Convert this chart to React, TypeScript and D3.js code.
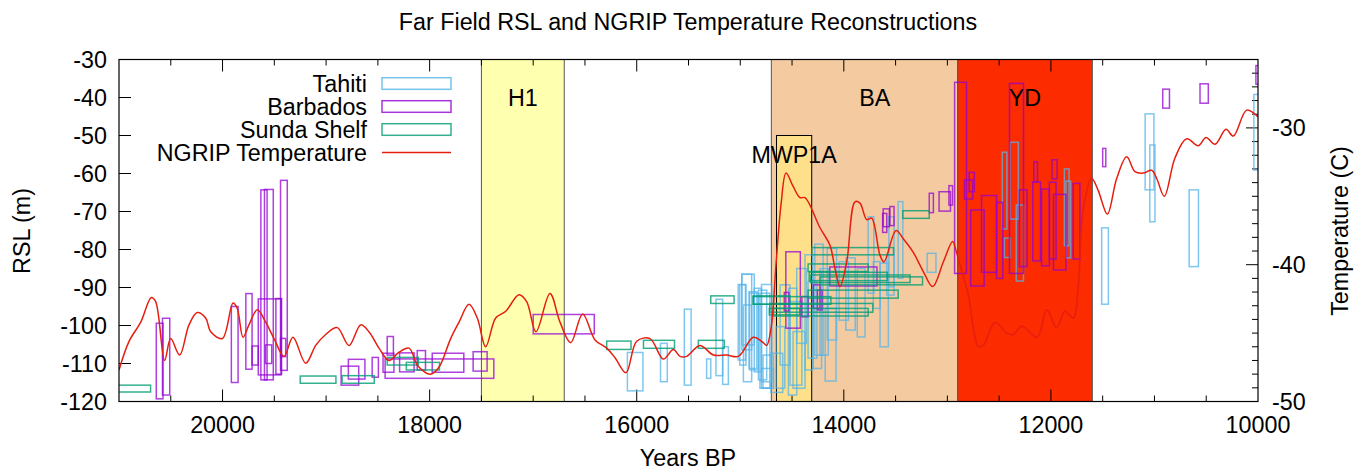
import React from 'react';
import * as d3 from 'd3';

// chart box in the page
const W = 1354;
const H = 470;
const L = 119, R = 1258, T = 59.5, B = 401.5;
const FONT = 'Liberation Sans, Arial, Helvetica, sans-serif';
const FS = 23.3;

// shaded climate periods (years BP)
const periodNames = ['H1', 'BA', 'YD'];
const periodOld = [17500, 14700, 12900];
const periodYoung = [16700, 12900, 11600];
const periodLabelYear = [17100, 13700, 12250];
const periodLabelRsl = [-40, -40, -40];

// meltwater pulse 1A box
const mwpOld = 14650;
const mwpYoung = 14310;
const mwpTop = -50;
const mwpLabelYear = 14480;
const mwpLabelRsl = -55;

// boxes: [older year, younger year, upper RSL, lower RSL]
const tahiti = [
  [16090, 15940, -107.1, -117.2], [15770, 15705, -104.7, -114.8], [15540, 15475, -95.7, -115.7],
  [15325, 15285, -108.8, -113.9], [15235, 15170, -93.1, -113.2], [15170, 15115, -105.6, -115.5],
  [15020, 14950, -89.2, -109.1], [14985, 14890, -86.5, -106.4], [14970, 14890, -94.6, -114.8],
  [14915, 14840, -91.1, -111.3], [14865, 14795, -90.2, -112.2], [14795, 14695, -89.2, -114.8],
  [14795, 14680, -111.3, -116.5], [15005, 14945, -89.3, -110.4], [14985, 14865, -86.5, -105.1],
  [14910, 14825, -91.5, -111.7], [14825, 14745, -90.7, -114.3], [14810, 14715, -91.5, -116.5],
  [14780, 14680, -107.8, -116.5], [14705, 14590, -107.3, -117.6], [14655, 14570, -100.3, -116.5],
  [14615, 14520, -89.3, -110.4], [14535, 14455, -90.2, -118.3], [14520, 14405, -93.7, -115.7],
  [14490, 14375, -101.6, -116.5], [14455, 14360, -85.0, -104.7], [14375, 14300, -81.4, -111.7],
  [14345, 14260, -88.5, -108.6], [14295, 14215, -85.8, -111.3], [14280, 14200, -78.6, -107.8],
  [14230, 14150, -85.0, -107.8], [14180, 14075, -95.5, -114.6], [14160, 14070, -79.7, -103.8],
  [14045, 13955, -83.2, -98.6], [13980, 13890, -82.2, -101.2], [13870, 13795, -85.0, -103.0],
  [13765, 13710, -71.4, -91.5], [13715, 13650, -83.2, -95.5], [13650, 13570, -83.6, -105.6],
  [13585, 13515, -81.4, -92.0], [13565, 13515, -71.4, -89.8], [13475, 13430, -67.4, -87.6],
  [13195, 13110, -81.0, -86.0], [12470, 12425, -54.4, -74.6], [12450, 12395, -77.0, -82.1],
  [12395, 12315, -51.8, -72.0], [12335, 12265, -68.3, -88.3], [11870, 11825, -58.8, -79.0],
  [11855, 11810, -62.0, -82.2], [11510, 11445, -74.3, -94.4], [11090, 11005, -44.3, -64.3],
  [11045, 10995, -52.5, -72.7], [10665, 10575, -64.3, -84.5], [10040, 9990, -39.2, -59.1],
];

const barbados = [
  [20640, 20575, -99.4, -119.3], [20580, 20510, -98.1, -118.3], [19915, 19850, -95.0, -115.0],
  [19775, 19715, -91.6, -111.5], [19715, 19655, -105.4, -110.4], [19655, 19435, -93.0, -113.0],
  [19630, 19570, -64.3, -114.3], [19595, 19510, -64.2, -114.3], [19585, 19525, -105.1, -110.0],
  [19485, 19430, -92.9, -112.8], [19440, 19375, -61.8, -111.8], [19440, 19390, -103.4, -108.2],
  [18855, 18685, -110.7, -115.7], [18785, 18625, -108.9, -114.1], [18555, 18495, -108.4, -113.6],
  [18410, 18350, -102.9, -107.8], [18450, 18345, -107.3, -112.3], [18430, 17380, -108.8, -113.9],
  [18290, 18150, -107.2, -112.2], [18120, 18040, -106.6, -111.7], [17975, 17670, -107.3, -112.3],
  [17580, 17445, -106.9, -112.0], [17000, 16410, -97.1, -102.2], [14560, 14420, -80.6, -100.7],
  [14575, 14530, -91.3, -96.2], [14405, 14345, -92.4, -97.7], [14295, 14230, -89.3, -95.5],
  [14255, 14210, -90.7, -95.9], [14135, 13680, -84.6, -89.6], [13625, 13585, -70.5, -75.5],
  [13620, 13560, -69.3, -74.0], [13555, 13515, -68.7, -73.7], [13175, 13135, -65.2, -70.3],
  [13080, 12970, -64.8, -69.9], [12985, 12950, -63.2, -68.3], [12930, 12815, -36.0, -86.3],
  [12835, 12755, -61.7, -66.7], [12790, 12740, -59.7, -64.8], [12775, 12645, -69.6, -89.6],
  [12670, 12525, -65.8, -86.0], [12525, 12465, -67.6, -87.6], [12400, 12265, -36.3, -86.3],
  [12305, 12230, -64.3, -84.5], [12175, 12100, -62.2, -83.0], [12165, 12130, -56.9, -62.2],
  [12090, 12015, -64.1, -84.3], [12015, 11950, -62.3, -82.5], [11990, 11940, -56.4, -61.4],
  [11975, 11855, -65.5, -85.4], [11785, 11720, -62.6, -82.5], [11500, 11470, -53.4, -58.2],
  [10920, 10855, -37.8, -42.8], [10560, 10480, -36.4, -41.5], [10020, 9990, -31.6, -36.5],
];

const sunda = [
  [21100, 20695, -115.7, -117.5], [19250, 18905, -113.3, -115.2], [18845, 18535, -113.2, -115.2],
  [18410, 18110, -108.4, -110.4], [18225, 17905, -109.7, -111.7], [16290, 16055, -104.1, -106.3],
  [15935, 15635, -103.9, -106.0], [15405, 15155, -103.9, -106.0], [15285, 15060, -92.2, -94.2],
  [14875, 14520, -92.2, -94.4], [14720, 14425, -95.5, -97.2], [14310, 13520, -79.5, -81.4],
  [14345, 13765, -83.8, -85.8], [14335, 13580, -86.0, -88.2], [14320, 13360, -86.7, -88.7],
  [14230, 13240, -87.2, -89.3], [14345, 13475, -90.7, -92.8], [14875, 14125, -92.4, -94.4],
  [14715, 13720, -94.2, -96.5], [14680, 13765, -95.5, -97.5], [13430, 13175, -69.8, -71.8],
];

// NGRIP temperature: [year BP, deg C]
const ngrip = [
  [21000, -47.7], [20903, -45.6], [20790, -44.2], [20688, -42.4], [20646, -42.7], [20559, -47.0],
  [20501, -45.4], [20414, -46.6], [20324, -44.4], [20244, -43.5], [20163, -43.9], [20114, -44.9],
  [20002, -45.4], [19899, -42.8], [19858, -43.2], [19802, -45.3], [19745, -44.4], [19664, -43.3],
  [19583, -44.2], [19503, -45.4], [19406, -46.7], [19320, -45.3], [19197, -47.2], [19100, -45.9],
  [19004, -45.1], [18892, -44.6], [18779, -45.9], [18666, -44.4], [18586, -44.9], [18489, -46.1],
  [18392, -47.0], [18296, -46.4], [18199, -46.1], [18113, -47.4], [17990, -48.0], [17910, -47.5],
  [17797, -45.4], [17716, -44.2], [17620, -42.9], [17540, -43.9], [17459, -46.0], [17362, -43.9],
  [17265, -43.4], [17137, -42.2], [17063, -42.7], [16973, -44.9], [16838, -42.1], [16741, -44.2],
  [16638, -45.7], [16522, -43.6], [16403, -45.5], [16290, -46.1], [16210, -46.8], [16104, -47.9],
  [16000, -45.6], [15872, -45.4], [15743, -46.9], [15647, -46.2], [15582, -46.7], [15517, -46.7],
  [15389, -45.9], [15260, -46.6], [15131, -46.6], [15019, -46.7], [14874, -45.3], [14778, -45.7],
  [14745, -45.9], [14700, -44.5], [14655, -40.0], [14605, -35.5], [14558, -33.3], [14488, -34.3],
  [14423, -35.1], [14375, -35.1], [14230, -37.3], [14133, -38.6], [14085, -40.3], [14037, -41.6],
  [13972, -39.8], [13892, -35.4], [13844, -35.5], [13779, -36.7], [13731, -36.6], [13651, -39.3],
  [13612, -39.8], [13496, -37.5], [13426, -38.1], [13329, -39.1], [13232, -40.5], [13142, -41.6],
  [13039, -39.8], [12949, -38.3], [12915, -39.0], [12885, -39.8], [12798, -42.2], [12701, -46.0],
  [12653, -45.9], [12540, -44.2], [12427, -45.0], [12363, -45.1], [12282, -44.5], [12131, -45.3],
  [12041, -43.3], [11944, -44.6], [11864, -43.4], [11784, -43.9], [11735, -41.5], [11687, -35.9],
  [11606, -33.7], [11542, -34.6], [11455, -36.3], [11365, -33.7], [11268, -32.1], [11188, -33.2],
  [11108, -33.3], [11027, -33.1], [10978, -33.7], [10905, -35.0], [10802, -32.2], [10689, -30.8],
  [10576, -31.3], [10502, -30.7], [10415, -31.2], [10309, -30.1], [10238, -30.6], [10109, -28.7],
  [10000, -29.2],
];

const xTicks = [20000, 18000, 16000, 14000, 12000, 10000];
const yTicks = [-30, -40, -50, -60, -70, -80, -90, -100, -110, -120];
const y2Ticks = [-30, -40, -50];

const legendNames = ['Tahiti', 'Barbados', 'Sunda Shelf', 'NGRIP Temperature'];

const periodFill: Record<string, string> = { H1: '#ffffb0', BA: '#f4cba0', YD: '#fc2b00' };
const seriesColor = { tahiti: '#56b4e9', barbados: '#9400d3', sunda: '#009e73', ngrip: '#e51e10' };

export default function App() {
  const x = d3.scaleLinear().domain([21000, 10000]).range([L, R]);
  const y = d3.scaleLinear().domain([-120, -30]).range([B, T]);
  const y2 = d3.scaleLinear().domain([-50, -25]).range([B, T]);

  const minorX = d3.range(10500, 21000, 500);
  const minorY2 = d3.range(-49, -25, 1);

  const line = d3
    .line<number[]>()
    .x((d) => x(d[0]))
    .y((d) => y2(d[1]))
    .curve(d3.curveCatmullRom.alpha(0.5));

  const boxes = (data: number[][], color: string, op: number) =>
    data.map((b, i) => (
      <rect
        key={i}
        x={x(b[0])}
        y={y(b[2])}
        width={x(b[1]) - x(b[0])}
        height={y(b[3]) - y(b[2])}
        fill="none"
        stroke={color}
        strokeOpacity={op}
        strokeWidth={1.5}
      />
    ));

  const legendColors = [seriesColor.tahiti, seriesColor.barbados, seriesColor.sunda, seriesColor.ngrip];

  return (
    <svg width={W} height={H} style={{ position: 'absolute', left: 0, top: 0, background: '#fff' }} fontFamily={FONT}>
      <defs>
        <clipPath id="plot">
          <rect x={L} y={T} width={R - L} height={B - T} />
        </clipPath>
      </defs>
      <rect width={W} height={H} fill="#fff" />

      {/* shaded periods */}
      {periodNames.map((n, i) => (
        <rect
          key={n}
          x={x(periodOld[i])}
          y={T}
          width={x(periodYoung[i]) - x(periodOld[i])}
          height={B - T}
          fill={periodFill[n]}
          stroke="#555"
          strokeWidth={1}
        />
      ))}
      <rect
        x={x(mwpOld)}
        y={y(mwpTop)}
        width={x(mwpYoung) - x(mwpOld)}
        height={B - y(mwpTop)}
        fill="#fee08b"
        stroke="#000"
        strokeWidth={1}
      />

      {/* ticks */}
      <g stroke="#000" strokeWidth={1}>
        {minorX.map((v) => {
          const major = v % 2000 === 0;
          const len = major ? 12 : 6;
          return (
            <g key={v}>
              <line x1={x(v)} x2={x(v)} y1={B} y2={B - len} />
              <line x1={x(v)} x2={x(v)} y1={T} y2={T + len} />
            </g>
          );
        })}
        {yTicks.slice(1, -1).map((v) => (
          <line key={v} x1={L} x2={L + 12} y1={y(v)} y2={y(v)} />
        ))}
        {minorY2.map((v) => (
          <line key={v} x1={R} x2={R - (v % 10 === 0 ? 12 : 6)} y1={y2(v)} y2={y2(v)} />
        ))}
      </g>

      {/* period labels */}
      {periodNames.map((n, i) => (
        <text key={n} x={x(periodLabelYear[i])} y={y(periodLabelRsl[i])} textAnchor="middle" dominantBaseline="central" fontSize={FS}>
          {n}
        </text>
      ))}
      <text x={x(mwpLabelYear)} y={y(mwpLabelRsl)} textAnchor="middle" dominantBaseline="central" fontSize={FS}>
        MWP1A
      </text>

      <g clipPath="url(#plot)">
        {boxes(tahiti, seriesColor.tahiti, 0.75)}
        {boxes(barbados, seriesColor.barbados, 0.75)}
        {boxes(sunda, seriesColor.sunda, 0.8)}
        <path d={line(ngrip) || ''} fill="none" stroke={seriesColor.ngrip} strokeWidth={1.5} />
      </g>

      {/* frame */}
      <rect x={L} y={T} width={R - L} height={B - T} fill="none" stroke="#000" strokeWidth={1.2} />

      {/* tick labels */}
      {xTicks.map((v) => (
        <text key={v} x={x(v)} y={433} textAnchor="middle" fontSize={FS}>
          {v}
        </text>
      ))}
      {yTicks.map((v) => (
        <text key={v} x={107} y={y(v)} textAnchor="end" dominantBaseline="central" fontSize={FS}>
          {v}
        </text>
      ))}
      {y2Ticks.map((v) => (
        <text key={v} x={1272} y={y2(v)} dominantBaseline="central" fontSize={FS}>
          {v}
        </text>
      ))}

      {/* axis titles */}
      <text x={688} y={30} textAnchor="middle" fontSize={FS}>
        Far Field RSL and NGRIP Temperature Reconstructions
      </text>
      <text x={688} y={466} textAnchor="middle" fontSize={FS}>
        Years BP
      </text>
      <text transform="translate(30,231) rotate(-90)" textAnchor="middle" fontSize={FS}>
        RSL (m)
      </text>
      <text transform="translate(1331,231) rotate(-90)" textAnchor="middle" dominantBaseline="hanging" fontSize={FS}>
        Temperature (C)
      </text>

      {/* legend */}
      {legendNames.map((n, i) => {
        const cy = 83.5 + i * 23;
        return (
          <g key={n}>
            <text x={367} y={cy} textAnchor="end" dominantBaseline="central" fontSize={FS}>
              {n}
            </text>
            {i < 3 ? (
              <rect x={382} y={cy - 5.8} width={69} height={11.6} fill="none" stroke={legendColors[i]} strokeOpacity={0.8} strokeWidth={1.5} />
            ) : (
              <line x1={382} x2={451} y1={cy} y2={cy} stroke={legendColors[i]} strokeWidth={1.5} />
            )}
          </g>
        );
      })}
    </svg>
  );
}
